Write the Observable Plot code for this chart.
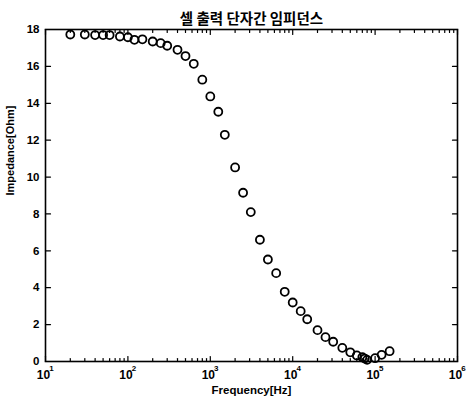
<!DOCTYPE html>
<html><head><meta charset="utf-8">
<script src="https://cdn.jsdelivr.net/npm/d3@7"></script>
<script src="https://cdn.jsdelivr.net/npm/@observablehq/plot@0.6"></script>
<style>body{margin:0;background:#fff}</style>
</head><body><div id="chart"></div>
<script>
const title = "셀 출력 단자간 임피던스";
const xLabel = "Frequency[Hz]";
const yLabel = "Impedance[Ohm]";
const frequency = [20, 30, 40, 50, 60, 80, 100, 120, 150, 200, 250, 300, 400, 500, 630, 800,
  1000, 1250, 1500, 2000, 2500, 3100, 4000, 5000, 6300, 8000, 10000, 12500, 15000, 20000,
  25000, 31000, 40000, 50000, 60000, 70000, 75000, 80000, 100000, 120000, 150000];
const impedance = [17.73, 17.73, 17.7, 17.7, 17.7, 17.62, 17.58, 17.44, 17.47, 17.35, 17.26, 17.12, 16.9, 16.56, 16.14, 15.28,
  14.37, 13.54, 12.29, 10.52, 9.15, 8.1, 6.6, 5.53, 4.79, 3.78, 3.2, 2.73, 2.29, 1.7,
  1.32, 1.07, 0.74, 0.5, 0.33, 0.23, 0.16, 0.09, 0.18, 0.36, 0.56];
const xTicks = [10, 100, 1000, 10000, 100000, 1000000];
const xTickBase = "10";
const xTickExponents = ["1", "2", "3", "4", "5", "6"];
const yTicks = [0, 2, 4, 6, 8, 10, 12, 14, 16, 18];
const xMinor = d3.range(1, 6).flatMap(k => d3.range(2, 10).map(m => m * Math.pow(10, k)));

const data = frequency.map((f, i) => ({f, z: impedance[i]}));
const line = {draw(ctx, l) { ctx.moveTo(0, 0); ctx.lineTo(0, -l); }};
const tickStyle = {stroke: "#000", strokeWidth: 1.2, anchor: "start", shape: line};
const chart = Plot.plot({
  width: 466, height: 405,
  marginLeft: 45, marginRight: 9, marginTop: 29, marginBottom: 44,
  style: {fontFamily: "'Liberation Sans', Arial, sans-serif", fontSize: "11px", color: "#000", background: "#fff"},
  x: {type: "log", domain: [10, 1e6]},
  y: {domain: [0, 18]},
  marks: [
    Plot.axisX({anchor: "bottom", ticks: xTicks, tickSize: 0, tickPadding: 9, dx: -2, tickFormat: () => xTickBase, label: null, fontWeight: "bold", fontSize: 12}),
    Plot.axisX({anchor: "bottom", ticks: xTicks, tickSize: 0, tickPadding: 4, dx: 6, tickFormat: d => xTickExponents[xTicks.indexOf(d)], label: null, fontWeight: "bold", fontSize: 8}),
    Plot.axisY({anchor: "left", ticks: yTicks, tickSize: 0, tickPadding: 6, label: null, fontWeight: "bold", fontSize: 11.5}),
    Plot.vector(xTicks, {x: d => d, frameAnchor: "bottom", length: 5, rotate: 0, ...tickStyle}),
    Plot.vector(xMinor, {x: d => d, frameAnchor: "bottom", length: 3, rotate: 0, ...tickStyle}),
    Plot.vector(xTicks, {x: d => d, frameAnchor: "top", length: 5, rotate: 180, ...tickStyle}),
    Plot.vector(xMinor, {x: d => d, frameAnchor: "top", length: 3, rotate: 180, ...tickStyle}),
    Plot.vector(yTicks, {y: d => d, frameAnchor: "left", length: 5, rotate: 90, ...tickStyle}),
    Plot.vector(yTicks, {y: d => d, frameAnchor: "right", length: 5, rotate: -90, ...tickStyle}),
    Plot.frame({stroke: "#000", strokeWidth: 1.6}),
    Plot.dot(data, {x: "f", y: "z", r: 4, stroke: "#000", strokeWidth: 1.8, fill: "none"}),
    Plot.text([title], {frameAnchor: "top", dy: -16, fontFamily: "'Noto Sans CJK KR', sans-serif", fontWeight: "bold", fontSize: 14.5}),
    Plot.text([xLabel], {frameAnchor: "bottom", dy: 32, fontWeight: "bold", fontSize: 11.5}),
    Plot.text([yLabel], {frameAnchor: "left", dx: -35, rotate: -90, fontWeight: "bold", fontSize: 11})
  ]
});
document.getElementById("chart").appendChild(chart);
</script>
</body></html>
